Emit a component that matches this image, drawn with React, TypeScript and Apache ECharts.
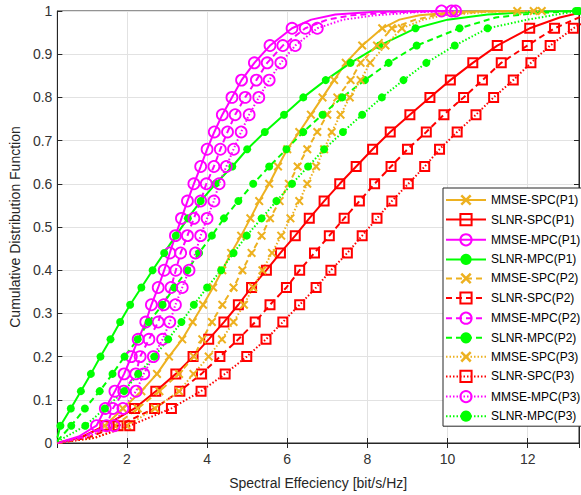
import React, { useEffect, useRef } from "react";
import * as echarts from "echarts";

// CDF levels at which the markers sit
const cdfLevels = [0.04, 0.08, 0.12, 0.16, 0.2, 0.24, 0.28, 0.32, 0.36, 0.4, 0.44, 0.48, 0.52, 0.56, 0.6, 0.64, 0.68, 0.72, 0.76, 0.8, 0.84, 0.88, 0.92, 0.96, 1.0];
const yTickLabels = ["0", "0.1", "0.2", "0.3", "0.4", "0.5", "0.6", "0.7", "0.8", "0.9", "1"];
const xTickLabels = ["2", "4", "6", "8", "10", "12"];

// x (spectral efficiency) at each CDF level
const mmseSpcP1 = [1.45, 1.9, 2.36, 2.75, 3.05, 3.38, 3.64, 3.9, 4.15, 4.38, 4.6, 4.85, 5.08, 5.3, 5.55, 5.77, 6.0, 6.3, 6.59, 6.88, 7.17, 7.46, 7.87, 8.37, 11.74];
const slnrSpcP1 = [1.45, 2.19, 2.72, 3.22, 3.65, 4.04, 4.42, 4.78, 5.11, 5.48, 5.83, 6.2, 6.55, 6.92, 7.31, 7.72, 8.13, 8.57, 9.06, 9.56, 10.07, 10.63, 11.24, 12.05, 13.5];
const mmseMpcP1 = [1.24, 1.46, 1.7, 1.93, 2.11, 2.28, 2.47, 2.61, 2.78, 2.93, 3.07, 3.21, 3.36, 3.51, 3.67, 3.84, 4.0, 4.18, 4.38, 4.62, 4.86, 5.18, 5.57, 6.12, 9.85];
const slnrMpcP1 = [0.34, 0.6, 0.85, 1.1, 1.34, 1.59, 1.83, 2.08, 2.36, 2.64, 2.93, 3.22, 3.52, 3.84, 4.21, 4.63, 5.0, 5.44, 5.92, 6.4, 6.96, 7.58, 8.3, 9.2, 13.2];
const mmseSpcP2 = [1.7, 2.27, 2.81, 3.3, 3.67, 3.88, 4.12, 4.38, 4.66, 4.88, 5.11, 5.36, 5.57, 5.81, 6.04, 6.26, 6.5, 6.75, 7.0, 7.25, 7.58, 7.83, 8.24, 8.61, 12.15];
const slnrSpcP2 = [1.78, 2.69, 3.32, 3.86, 4.32, 4.78, 5.2, 5.57, 5.98, 6.31, 6.68, 7.05, 7.42, 7.8, 8.18, 8.59, 9.0, 9.47, 9.91, 10.4, 10.87, 11.34, 11.99, 12.67, 13.6];
const mmseMpcP2 = [1.49, 1.65, 1.92, 2.22, 2.33, 2.55, 2.78, 2.92, 3.1, 3.22, 3.34, 3.51, 3.67, 3.84, 3.98, 4.17, 4.33, 4.51, 4.7, 4.95, 5.23, 5.5, 5.89, 6.45, 10.1];
const slnrMpcP2 = [0.61, 0.95, 1.32, 1.64, 1.94, 2.27, 2.54, 2.89, 3.18, 3.51, 3.8, 4.12, 4.42, 4.78, 5.15, 5.55, 5.98, 6.4, 6.88, 7.37, 7.94, 8.53, 9.23, 10.3, 13.25];
const mmseSpcP3 = [2.0, 2.7, 3.3, 3.66, 4.04, 4.37, 4.66, 4.92, 5.15, 5.38, 5.62, 5.85, 6.08, 6.3, 6.5, 6.72, 6.92, 7.11, 7.33, 7.56, 7.83, 8.07, 8.45, 8.86, 12.35];
const slnrSpcP3 = [2.07, 3.11, 3.85, 4.45, 4.99, 5.47, 5.89, 6.31, 6.72, 7.09, 7.5, 7.87, 8.24, 8.61, 9.02, 9.43, 9.8, 10.24, 10.71, 11.15, 11.64, 12.08, 12.56, 13.14, 13.9];
const mmseMpcP3 = [1.68, 1.9, 2.23, 2.42, 2.66, 2.89, 3.07, 3.21, 3.38, 3.55, 3.71, 3.84, 4.0, 4.17, 4.3, 4.48, 4.66, 4.85, 5.05, 5.29, 5.55, 5.84, 6.2, 6.75, 10.2];
const slnrMpcP3 = [0.96, 1.45, 1.93, 2.28, 2.68, 3.03, 3.36, 3.67, 4.0, 4.35, 4.66, 4.99, 5.36, 5.73, 6.12, 6.52, 6.92, 7.39, 7.87, 8.36, 8.9, 9.47, 10.18, 11.0, 13.28];

// unmarked points of the curves (start near origin, tails near 1)
const mmseSpcP1Extra = [[0.27, 0], [0.9, 0.014], [8.8, 0.98], [9.3, 0.99], [10.3, 0.998]];
const slnrSpcP1Extra = [[0.27, 0], [0.9, 0.015], [12.8, 0.985]];
const mmseMpcP1Extra = [[0.27, 0], [0.8, 0.015], [6.6, 0.98], [7.2, 0.992], [8.2, 0.998]];
const slnrMpcP1Extra = [[0.264, 0.012], [10.0, 0.98], [11.0, 0.992], [12.2, 0.998]];
const mmseSpcP2Extra = [[0.27, 0], [1.0, 0.012], [9.2, 0.98], [9.7, 0.99], [10.8, 0.998]];
const slnrSpcP2Extra = [[0.27, 0], [1.05, 0.013], [13.28, 0.985]];
const mmseMpcP2Extra = [[0.27, 0], [0.9, 0.014], [7.0, 0.98], [7.6, 0.99], [8.6, 0.997]];
const slnrMpcP2Extra = [[0.264, 0.005], [11.2, 0.985], [12.2, 0.995]];
const mmseSpcP3Extra = [[0.27, 0], [1.2, 0.012], [9.4, 0.98], [9.9, 0.99], [11.0, 0.998]];
const slnrSpcP3Extra = [[0.27, 0], [1.2, 0.012]];
const mmseMpcP3Extra = [[0.27, 0], [1.0, 0.014], [7.4, 0.98], [8.2, 0.99], [9.2, 0.997]];
const slnrMpcP3Extra = [[0.264, 0.003], [12.0, 0.98], [12.8, 0.993]];

const ORANGE = "#EDB120";
const RED = "#FF0000";
const MAGENTA = "#FF00FF";
const GREEN = "#00FF00";

const CROSS = "path://M0,1.6 L1.6,0 L5,3.4 L8.4,0 L10,1.6 L6.6,5 L10,8.4 L8.4,10 L5,6.6 L1.6,10 L0,8.4 L3.4,5 Z";

type Kind = "mmseSpc" | "slnrSpc" | "mmseMpc" | "slnrMpc";

const seriesDefs: { name: string; xs: number[]; extra: number[][]; kind: Kind; dash: "solid" | "dashed" | "dotted" }[] = [
  { name: "MMSE-SPC(P1)", xs: mmseSpcP1, extra: mmseSpcP1Extra, kind: "mmseSpc", dash: "solid" },
  { name: "SLNR-SPC(P1)", xs: slnrSpcP1, extra: slnrSpcP1Extra, kind: "slnrSpc", dash: "solid" },
  { name: "MMSE-MPC(P1)", xs: mmseMpcP1, extra: mmseMpcP1Extra, kind: "mmseMpc", dash: "solid" },
  { name: "SLNR-MPC(P1)", xs: slnrMpcP1, extra: slnrMpcP1Extra, kind: "slnrMpc", dash: "solid" },
  { name: "MMSE-SPC(P2)", xs: mmseSpcP2, extra: mmseSpcP2Extra, kind: "mmseSpc", dash: "dashed" },
  { name: "SLNR-SPC(P2)", xs: slnrSpcP2, extra: slnrSpcP2Extra, kind: "slnrSpc", dash: "dashed" },
  { name: "MMSE-MPC(P2)", xs: mmseMpcP2, extra: mmseMpcP2Extra, kind: "mmseMpc", dash: "dashed" },
  { name: "SLNR-MPC(P2)", xs: slnrMpcP2, extra: slnrMpcP2Extra, kind: "slnrMpc", dash: "dashed" },
  { name: "MMSE-SPC(P3)", xs: mmseSpcP3, extra: mmseSpcP3Extra, kind: "mmseSpc", dash: "dotted" },
  { name: "SLNR-SPC(P3)", xs: slnrSpcP3, extra: slnrSpcP3Extra, kind: "slnrSpc", dash: "dotted" },
  { name: "MMSE-MPC(P3)", xs: mmseMpcP3, extra: mmseMpcP3Extra, kind: "mmseMpc", dash: "dotted" },
  { name: "SLNR-MPC(P3)", xs: slnrMpcP3, extra: slnrMpcP3Extra, kind: "slnrMpc", dash: "dotted" },
];

function buildData(xs: number[], extra: number[][]) {
  const marked = xs.map((x, i) => ({ value: [x, cdfLevels[i]] }));
  const plain = extra.map((p) => ({ value: p, symbol: "none" }));
  return [...marked, ...plain].sort((a, b) => a.value[1] - b.value[1] || a.value[0] - b.value[0]);
}

function styleFor(kind: Kind) {
  switch (kind) {
    case "mmseSpc":
      return { color: ORANGE, symbol: CROSS, symbolSize: 9, itemStyle: { color: ORANGE, borderWidth: 0 } };
    case "slnrSpc":
      return { color: RED, symbol: "rect", symbolSize: 9, itemStyle: { color: "rgba(255,255,255,0)", borderColor: RED, borderWidth: 2 } };
    case "mmseMpc":
      return { color: MAGENTA, symbol: "circle", symbolSize: 11, itemStyle: { color: "rgba(255,255,255,0)", borderColor: MAGENTA, borderWidth: 1.8 } };
    default:
      return { color: GREEN, symbol: "circle", symbolSize: 8, itemStyle: { color: GREEN, borderWidth: 0 } };
  }
}

const FONT = "'Liberation Sans', Arial, Helvetica, sans-serif";
const AXIS_COLOR = "#262626";
const X_MIN = 0.264;
const X_MAX = 13.28;

export default function App() {
  const ref = useRef<HTMLDivElement>(null);
  useEffect(() => {
    document.body.style.margin = "0";
    if (!ref.current) return;
    const chart = echarts.init(ref.current, undefined, { renderer: "svg" });
    const xFmt = (v: number) => {
      const r = Math.round(v);
      return Math.abs(v - r) < 1e-6 && xTickLabels.includes(String(r)) ? String(r) : "";
    };
    const yFmt = (v: number) => {
      const idx = Math.round(v * 10);
      return Math.abs(v * 10 - idx) < 1e-6 ? yTickLabels[idx] : "";
    };
    const series = seriesDefs.map((d) => {
      const s = styleFor(d.kind);
      const dashType = d.dash === "solid" ? "solid" : d.dash === "dashed" ? [6, 4] : [1.5, 2];
      return {
        name: d.name,
        type: "line",
        data: buildData(d.xs, d.extra),
        symbol: s.symbol,
        symbolSize: s.symbolSize,
        showAllSymbol: true,
        clip: true,
        lineStyle: { color: s.color, width: 2, type: dashType },
        itemStyle: s.itemStyle,
        emphasis: { disabled: true },
      };
    });
    const xCommon = {
      type: "value",
      min: X_MIN,
      max: X_MAX,
      splitNumber: 6,
      minInterval: 2,
      maxInterval: 2,
    };
    const option = {
      animation: false,
      backgroundColor: "#ffffff",
      textStyle: { fontFamily: FONT },
      grid: { left: 52, right: 2, top: 11, bottom: 52, show: true, borderColor: AXIS_COLOR, borderWidth: 1, backgroundColor: "#fff" },
      legend: {
        orient: "vertical",
        left: 443,
        top: 188,
        padding: [6, 6, 4, 2],
        itemWidth: 40,
        itemHeight: 14,
        itemGap: 7,
        backgroundColor: "#ffffff",
        borderColor: AXIS_COLOR,
        borderWidth: 1,
        borderRadius: 0,
        textStyle: { fontFamily: FONT, fontSize: 12, color: "#000" },
        data: seriesDefs.map((d) => d.name),
        selectedMode: false,
      },
      xAxis: [
        {
          ...xCommon,
          name: "Spectral Effeciency [bit/s/Hz]",
          nameLocation: "middle",
          nameGap: 33,
          nameTextStyle: { fontFamily: FONT, fontSize: 14, color: AXIS_COLOR },
          axisLine: { show: true, lineStyle: { color: AXIS_COLOR, width: 1 } },
          axisTick: { show: true, inside: true, length: 5, lineStyle: { color: AXIS_COLOR } },
          axisLabel: { formatter: xFmt, fontFamily: FONT, fontSize: 14, color: "#333", margin: 9, showMinLabel: false, showMaxLabel: false },
          splitLine: { show: true, lineStyle: { color: "#e2e2e2", width: 1 } },
        },
        {
          ...xCommon,
          position: "top",
          axisLine: { show: true, lineStyle: { color: AXIS_COLOR, width: 1 } },
          axisTick: { show: true, inside: true, length: 5, lineStyle: { color: AXIS_COLOR } },
          axisLabel: { show: false },
          splitLine: { show: false },
        },
      ],
      yAxis: [
        {
          type: "value",
          min: 0,
          max: 1,
          interval: 0.1,
          name: "Cumulative Distribution Function",
          nameLocation: "middle",
          nameGap: 31,
          nameTextStyle: { fontFamily: FONT, fontSize: 14, color: AXIS_COLOR },
          axisLine: { show: true, lineStyle: { color: AXIS_COLOR, width: 1 } },
          axisTick: { show: true, inside: true, length: 5, lineStyle: { color: AXIS_COLOR } },
          axisLabel: { formatter: yFmt, fontFamily: FONT, fontSize: 14, color: "#333", margin: 5 },
          splitLine: { show: true, lineStyle: { color: "#e2e2e2", width: 1 } },
        },
        {
          type: "value",
          position: "right",
          min: 0,
          max: 1,
          interval: 0.1,
          axisLine: { show: true, lineStyle: { color: AXIS_COLOR, width: 1 } },
          axisTick: { show: true, inside: true, length: 5, lineStyle: { color: AXIS_COLOR } },
          axisLabel: { show: false },
          splitLine: { show: false },
        },
      ],
      series,
    };
    chart.setOption(option as any);
    return () => chart.dispose();
  }, []);
  return <div ref={ref} style={{ position: "fixed", left: 0, top: 0, width: 581, height: 495 }} />;
}
